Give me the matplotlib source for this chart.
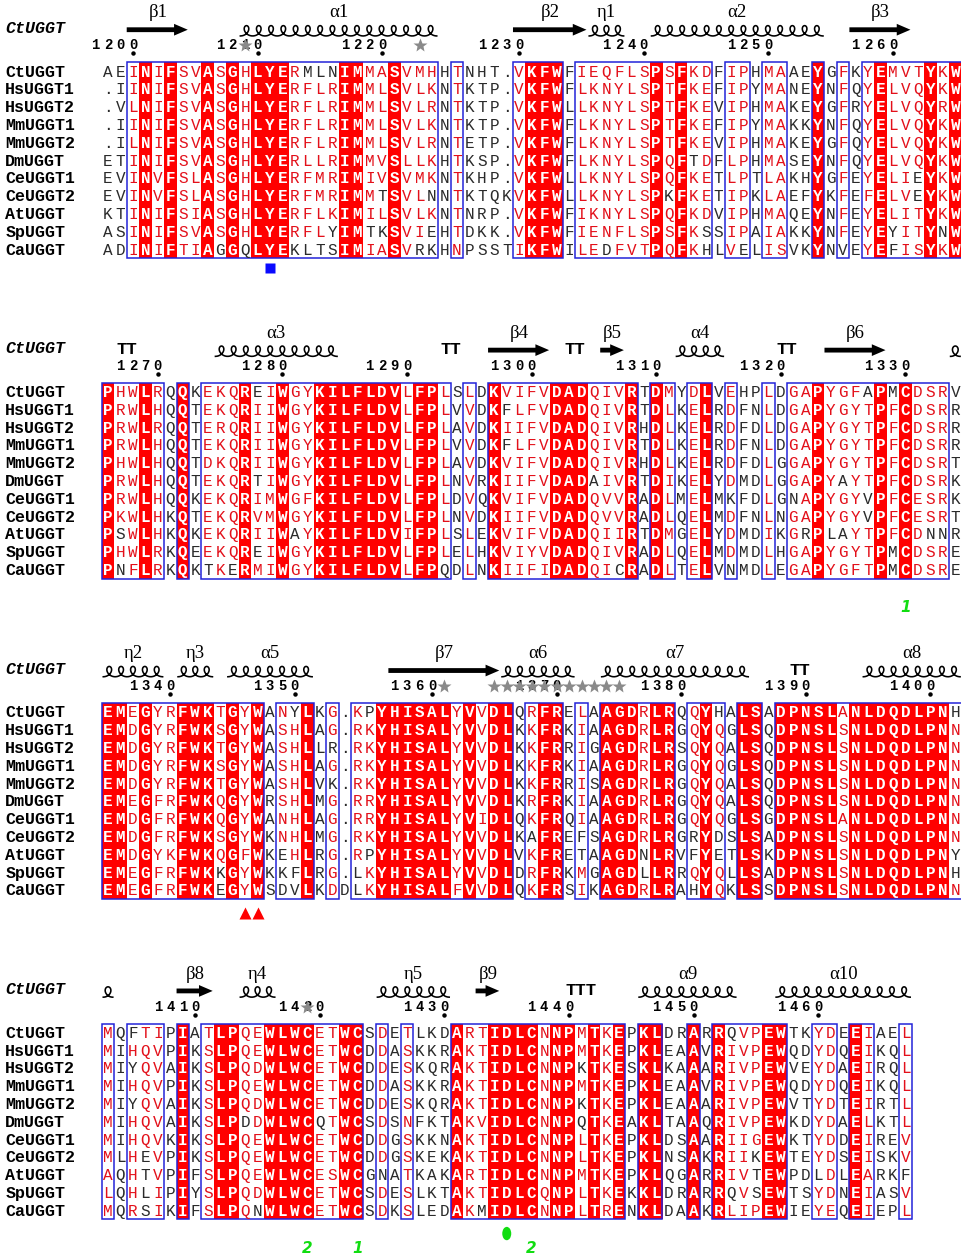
import matplotlib
matplotlib.use("Agg")
import matplotlib.pyplot as plt
from matplotlib.patches import Rectangle, Ellipse
import numpy as np

# sequence names (same order in every block)
names = ["CtUGGT", "HsUGGT1", "HsUGGT2", "MmUGGT1", "MmUGGT2", "DmUGGT",
         "CeUGGT1", "CeUGGT2", "AtUGGT", "SpUGGT", "CaUGGT"]

# number of the first CtUGGT residue in each block
ct_start = [1198, 1266, 1335, 1403]

# column classes: R = strictly conserved, S = similar (framed), . = none
cls1 = "..SRSRSSRSRSRRRSSSSRRSSRSSS.S....SRRR.SSSSSSRSRSS.SS.SS..R.S.SRSSSRSR"
cls2 = "RSSRS.R.SSSRSSRSSRRRRRRRSRRS.S.RSSSSRRRSSSR.RS.SR.S..S.SSRSSSSRSRSSS."
cls3 = "RRSRSSRRRSRSR.SSR.S.SSRRRRRRSRSRR.SRR.S.RRRSRR.SRS.RR.RRRRRSRRRRRRRRS"
cls4 = "S.SSS.R.SRRSSRRRRSSRR.S.S...RSSRRRRSRRSRSR.RR..R.RSSSRR..SS.RS..S"

# residues; lower case = residue outside the similarity group of its column
seq1 = [
    "AEINIFSVASGHLYERmlnIMMASVMHHTNHT.VKFWFIEQFLSPSFKDFIPHMAAEYGFKYEMVTYKW",
    ".IINIFSVASGHLYERFLRIMMLSVLKNTKTP.VKFWFLKNYLSPTFKEFIPYMANEYNFQYELVQYKW",
    ".VLNIFSVASGHLYERFLRIMMLSVLRNTKTP.VKFWLLKNYLSPTFKEVIPHMAKEYGFRYELVQYRW",
    ".IINIFSVASGHLYERFLRIMMLSVLKNTKTP.VKFWFLKNYLSPTFKEFIPYMAKKYNFQYELVQYKW",
    ".ILNIFSVASGHLYERFLRIMMLSVLRNTETP.VKFWFLKNYLSPTFKEVIPHMAKEYGFQYELVQYKW",
    "ETINIFSVASGHLYERLLRIMMVSLLKHTKSP.VKFWFLKNYLSPQFtDFLPHMASEYNFQYELVQYKW",
    "EVINVFSLASGHLYERFMRIMIVSVMKNTKHP.VKFWLLKNYLSPQFKETLPTLAKHYGFEYELIeYKW",
    "EVINVFSLASGHLYERFMRIMMtSVLnNTKTQKVKFWLLKNYLSPkFKETIPKLAEFYKFEFELVeYKW",
    "KTINIFSIASGHLYERFLKIMILSVLKNTNRP.VKFWFIKNYLSPQFKDVIPHMAQEYNFEYELITYKW",
    "ASINIFSVASGHLYERFLyIMtkSVIeHTDKK.VKFWFIENFLSPSFKsSIPAIAKKYNFEYEyITYnW",
    "ADINIFTIAgGqLYEkltsIMIASVrkHNPSSTIKFWILEdFVTPQFKhLVeLISVKYNvEYEfISYKW",
]
seq2 = [
    "PHWLRQQKEKQReIWGYKILFLDVLFPLSLDKVIFVDADQIVRTDMYDLVEHPLDGAPYGFaPmCDSRV",
    "PRWLHQQTEKQRIIWGYKILFLDVLFPLVVDKfLFVDADQIVRTDLKELRDFNLDGAPYGYTPFCDSRR",
    "PRWLRQQTERQRIIWGYKILFLDVLFPLAVDKIIFVDADQIVRHDLKELRDFDLDGAPYGYTPFCDSRR",
    "PRWLHQQTEKQRIIWGYKILFLDVLFPLVVDKfLFVDADQIVRTDLKELRDFNLDGAPYGYTPFCDSRR",
    "PHWLHQQTDKQRIIWGYKILFLDVLFPLAVDKVIFVDADQIVRHDLKELRDFDLGGAPYGYTPFCDSRT",
    "PRWLHQQTEKQRtIWGYKILFLDVLFPLNVRKIIFVDADaIVRTDIKELYDMDLGGAPYaYTPFCDSRK",
    "PRWLHQQKEKQRIMWGFKILFLDVLFPLDVQKVIFVDADQVVRADLMELMkFDLGnAPYGYvPFCESRK",
    "PKWLHKQTEKQRVMWGYKILFLDVLFPLNVDKIIFVDADQVVRADLQELMDFNLNGAPYGYvPFCESRT",
    "PsWLHKQKEKQRIIWaYKILFLDVIFPLSLEKVIFVDADQIIRTDMGELYDMDIKGrPlaYTPFCDnnR",
    "PHWLRKQEEKQReIWGYKILFLDVLFPLELHKVIYVDADQIVRADLQELMDMDLHGAPYGYTPmCDSRE",
    "PnFLRKQKtKeRMIWGYKILFLDVLFPqDLNKIIFIDADQIcRADLTELVnMDLEGAPYGFTPmCDSRE",
]
seq3 = [
    "EMEGYRFWKTGYWANyLKG.KpYHISALYVVDLQRFRELAAGDRLRQQYhALSADPNSLANLDQDLPNh",
    "EMDGYRFWKSGYWASHLAG.RKYHISALYVVDLKKFRKIAAGDRLRGQYQGLSQDPNSLSNLDQDLPNN",
    "EMDGYRFWKTGYWASHLLr.RKYHISALYVVDLKKFRRIGAGDRLRSQYQALSQDPNSLSNLDQDLPNN",
    "EMDGYRFWKSGYWASHLAG.RKYHISALYVVDLKKFRKIAAGDRLRGQYQGLSQDPNSLSNLDQDLPNN",
    "EMDGYRFWKTGYWASHLVk.RKYHISALYVVDLKKFRRISAGDRLRGQYQALSQDPNSLSNLDQDLPNN",
    "EMEGFRFWKQGYWRSHLMG.RRYHISALYVVDLKRFRKIAAGDRLRGQYQALSQDPNSLSNLDQDLPNN",
    "EMDGFRFWKQGYWANHLAG.RRYHISALYVIDLQKFRQIAAGDRLRGQYQGLSGDPNSLANLDQDLPNN",
    "EMDGFRFWKSGYWKNHLMG.RKYHISALYVVDLKaFREfSAGDRLRGrYdSLSADPNSLSNLDQDLPNN",
    "EMDGYKFWKQGFWKeHLRG.RpYHISALYVVDLVKFREtAAGDnLRVfYeTLSKDPNSLSNLDQDLPNy",
    "EMEGFRFWKkGYWKkfLRG.lKYHISALYVVDLDRFRKMGAGDlLRRQYQLLSADPNSLSNLDQDLPNh",
    "EMEGFRFWKeGYWSdvLKDDlKYHISALFVVDLQKFRSIKAGDRLRAhYQKLSSDPNSLSNLDQDLPNN",
]
seq4 = [
    "MQfTIPIATLPQEWLWCETWCSDETLKDARTIDLCNNPMTKEPKLDRARRqVPEWTKYDEEIAEL",
    "MIHQVPIKSLPQEWLWCETWCDDASKKRAKTIDLCNNPMTKEPKLEAAVRIVPEWQDYDQEIKQL",
    "MIyQVAIKSLPQDWLWCETWCDDESKQRAKTIDLCNNPkTKESKLKAAARIVPEWVEYDAEIRQL",
    "MIHQVPIKSLPQEWLWCETWCDDASKKRAKTIDLCNNPMTKEPKLEAAVRIVPEWQDYDQEIKQL",
    "MIyQVAIKSLPQDWLWCETWCDDESKQRAKTIDLCNNPkTKEPKLEAAARIVPEWVTYDTEIRTL",
    "MIHQVAIKSLPdDWLWCqTWCSDSNFKTAKVIDLCNNPqTKEAKLTAAQRIVPEWKDYDAELKTL",
    "MIHQVKIKSLPQEWLWCETWCDDGSKKNAKTIDLCNNPLTKEPKLDSAARIIGEWKTYDDEIREV",
    "MLHeVPIKSLPQEWLWCETWCDDGSKEKAKTIDLCNNPLTKEPKLNSAKRIIkEWTEYDSEISKV",
    "AQHtVPIFSLPQEWLWCESWCGnATKAKARTIDLCNNPMTKEPKLQGARRIVtEWPDlDLEARKf",
    "LQHlIPIYSLPQDWLWCETWCSDESLKTAKTIDLCQNPLTKEKKLDRARRqVsEWTSYDNEIASV",
    "MQRsIKIFSLPQnWLWCETWCSDKSLEDAKmIDLCNNPLTRENKLDAAKRLIPEWIEYEQEIEPL",
]

# secondary structure of CtUGGT: (kind, label, first column, last column)
ss1 = [("E", "β1", 2, 6), ("H", "α1", 11, 26), ("E", "β2", 33, 38),
       ("H", "η1", 39, 41), ("H", "α2", 44, 57), ("E", "β3", 60, 64)]
ss2 = [("T", "TT", 1, 2), ("H", "α3", 9, 18), ("T", "TT", 27, 28),
       ("E", "β4", 31, 35), ("T", "TT", 37, 38), ("E", "β5", 40, 41),
       ("H", "α4", 46, 49), ("T", "TT", 54, 55), ("E", "β6", 58, 62),
       ("H", "", 68, 68)]
ss3 = [("H", "η2", 0, 4), ("H", "η3", 6, 8), ("H", "α5", 10, 16),
       ("E", "β7", 23, 31), ("H", "α6", 32, 37), ("H", "α7", 40, 51),
       ("T", "TT", 55, 56), ("H", "α8", 61, 68)]
ss4 = [("H", "", 0, 0), ("E", "β8", 6, 8), ("H", "η4", 11, 13),
       ("H", "η5", 22, 27), ("E", "β9", 30, 31), ("T", "TTT", 37, 39),
       ("H", "α9", 43, 50), ("H", "α10", 54, 64)]

# annotations: (block, column)
stars = [(0, 11), (0, 25), (2, 27), (2, 31), (2, 32), (2, 33), (2, 34),
         (2, 35), (2, 36), (2, 37), (2, 38), (2, 39), (2, 40), (2, 41),
         (3, 16)]
squares = [(0, 13)]
triangles = [(2, 11), (2, 12)]
ellipses = [(3, 32)]
bridges = [(1, 64, "1"), (3, 16, "2"), (3, 20, "1"), (3, 34, "2")]

RED = "#ff0000"
RED_TXT = "#e3101a"
BLUE = "#2323d8"
GREY = "#2a2a2a"
MONO = "Liberation Mono"

CW, X0, RH = 12.46, 101.8, 17.8   # column width, left edge, row pitch (px)

fig = plt.figure(figsize=(9.62, 12.6), dpi=100)
ax = fig.add_axes([0, 0, 1, 1])
ax.set_xlim(-X0 / CW, (962 - X0) / CW)
ax.set_ylim(1260 / RH, 0)
ax.axis("off")


def helix(x0, x1, y):
    # one loop per residue, loops on top of a baseline
    n = x1 - x0
    t = np.linspace(0, n, 80 * n + 1)
    xs = x0 + 0.12 + t * (n - 0.24) / n + 0.4 * np.sin(2 * np.pi * t)
    ys = y - 0.29 * (1 - np.cos(2 * np.pi * t))
    ax.plot(xs, ys, color="black", lw=1.15)


def draw_block(b, seqs, cls, ss, start):
    y0 = 18 * b + 4
    n = len(cls)
    top, bot = y0 - 0.5, y0 + len(seqs) - 0.5
    for c, k in enumerate(cls):
        if k == "R":
            ax.add_patch(Rectangle((c, top), 1, bot - top, fc=RED, ec="none"))
    c = 0
    while c < n:
        if cls[c] == ".":
            c += 1
            continue
        e = c
        while e + 1 < n and cls[e + 1] != ".":
            e += 1
        ax.add_patch(Rectangle((c, top), e - c + 1, bot - top, fill=False,
                               ec=BLUE, lw=1.1, zorder=3))
        c = e + 1
    for r, s in enumerate(seqs):
        ax.text(-7.75, y0 + r + 0.3, names[r], family=MONO, weight="bold",
                fontsize=12, va="baseline", ha="left", color="black")
        for c, ch in enumerate(s):
            k = cls[c]
            if k == "R":
                col, w = "white", "bold"
            elif k == "S" and ch.isupper():
                col, w = RED_TXT, "normal"
            else:
                col, w = GREY, "normal"
            ax.text(c + 0.5, y0 + r + 0.3, ch.upper(), family=MONO, weight=w,
                    fontsize=11.5, color=col, ha="center", va="baseline",
                    zorder=4)
    # header
    ax.text(-7.75, y0 - 2.15, "CtUGGT", family=MONO, weight="bold",
            style="italic", fontsize=12, va="baseline", ha="left")
    num = start
    for c, ch in enumerate(seqs[0]):
        if ch == ".":
            continue
        if num % 10 == 0:
            digits = str(num)
            for i, d in enumerate(digits):
                ax.text(c + 0.5 - (len(digits) - 1 - i), y0 - 1.22, d,
                        family=MONO, weight="bold", fontsize=10,
                        ha="center", va="baseline")
            ax.plot(c + 0.5, y0 - 1.0, "o", color="black", ms=2.2)
        num += 1
    for kind, label, c0, c1 in ss:
        mid = (c0 + c1 + 1) / 2
        if kind == "E":
            ax.arrow(c0, y0 - 2.33, c1 + 1 - c0 - 0.1, 0, width=0.27,
                     head_width=0.66, head_length=1.1,
                     length_includes_head=True, fc="black", ec="black", lw=0)
        elif kind == "H":
            helix(c0, c1 + 1, y0 - 1.98)
        else:
            ax.text(mid, y0 - 2.1, label, family=MONO, weight="bold",
                    fontsize=12.5, ha="center", va="baseline")
            continue
        if label:
            ax.text(mid, y0 - 3.27, label, family="Liberation Serif",
                    fontsize=13.5, ha="center", va="center")


draw_block(0, seq1, cls1, ss1, ct_start[0])
draw_block(1, seq2, cls2, ss2, ct_start[1])
draw_block(2, seq3, cls3, ss3, ct_start[2])
draw_block(3, seq4, cls4, ss4, ct_start[3])

for b, c in stars:
    ax.plot(c + 0.5, 18 * b + 4 - 1.45, marker="*", color="#8a8a8a",
            ms=10, mec="none", zorder=5)
for b, c in squares:
    ax.plot(c + 0.5, 18 * b + 4 + 11.06, marker="s", color="#0a0aff",
            ms=7.5, mec="none")
for b, c in triangles:
    ax.plot(c + 0.5, 18 * b + 4 + 11.3, marker="^", color="#ff0000",
            ms=8.5, mec="none")
for b, c in ellipses:
    ax.add_patch(Ellipse((c + 0.5, 18 * b + 4 + 11.3), 0.72, 0.75,
                         fc="#11dd11", ec="none"))
for b, c, t in bridges:
    ax.text(c + 0.5, 18 * b + 4 + 12.4, t, family="DejaVu Sans",
            weight="bold", style="italic", fontsize=11, color="#11dd11",
            ha="center", va="baseline")

fig.savefig("out.png", dpi=100)
